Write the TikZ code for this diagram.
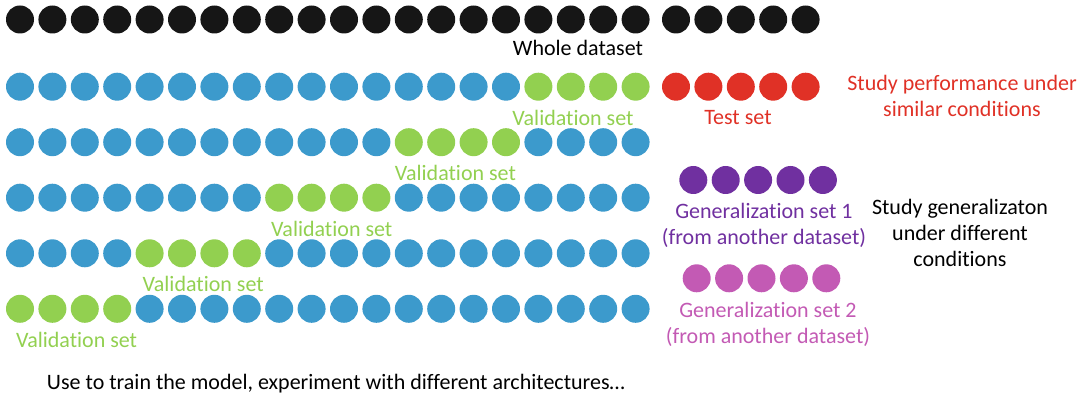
\documentclass[tikz,border=0pt]{standalone}
\usepackage{fontspec}
\setmainfont{Carlito}[Ligatures={NoCommon,NoContextual},RawFeature={-liga;-clig;-calt;-dlig;-rlig}]
\usetikzlibrary{positioning}
\definecolor{dotblack}{HTML}{161616}
\definecolor{trainblue}{HTML}{3C9ACC}
\definecolor{valgreen}{HTML}{92D050}
\definecolor{testred}{HTML}{E03126}
\definecolor{genpurple}{HTML}{7030A0}
\definecolor{genpink}{HTML}{C35AB4}

\begin{document}
\begin{tikzpicture}[x=0.75pt,y=-0.75pt,font=\fontsize{16.5}{19.5}\selectfont,dot/.style={circle,fill=#1,inner sep=0pt,minimum size=21pt},lbl/.style={inner sep=0pt,align=center,text=#1}]
\useasboundingbox (0,0) rectangle (1090,399);
% whole dataset
\foreach \k in {0,...,19} \node[dot=dotblack] (all\k) at (20+32.4*\k,19.5) {};
\foreach \k in {20,...,24} \node[dot=dotblack] (all\k) at (28+32.4*\k,19.5) {};
\node[lbl=black] (whole) at (578,48) {Whole dataset};
% folds: row / first validation dot / y / label shift
\foreach \r/\g/\y/\dx in {2/16/86.7/-14,3/12/142.2/-2,4/8/197.7/4,5/4/253.3/5,6/0/308.8/8}{
  \foreach \k in {0,...,19}{
    \pgfmathtruncatemacro{\isval}{(\k>=\g)&&(\k<\g+4)}
    \ifnum\isval=1 \def\dotcol{valgreen}\else\def\dotcol{trainblue}\fi
    \node[dot=\dotcol] (f\r-\k) at (20+32.4*\k,\y) {};
  }
  \node[lbl=valgreen] (val\r) at (20+32.4*\g+48.6+\dx,\y+31) {Validation set};
}
% test set
\foreach \k in {20,...,24} \node[dot=testred] (f2-\k) at (28+32.4*\k,86.7) {};
\node[lbl=testred] (test) at (738,118) {Test set};
\node[lbl=testred] (similar) at (962,95.5) {Study performance under\\similar conditions};
% generalization sets
\foreach \i in {0,...,4} \node[dot=genpurple] (gA\i) at (693.3+32.4*\i,180) {};
\node[lbl=genpurple] (genA) at (764,225.8) {Generalization set 1\\(from another dataset)};
\foreach \i in {0,...,4} \node[dot=genpink] (gB\i) at (696.7+32.4*\i,278.3) {};
\node[lbl=genpink] (genB) at (768,324.2) {Generalization set 2\\(from another dataset)};
\node[lbl=black] (different) at (960,233.3) {Study generalizaton\\under different\\conditions};
\node[lbl=black,anchor=west] (use) at (46.7,383.3) {Use to train the model, experiment with different architectures…};
\end{tikzpicture}
\end{document}
